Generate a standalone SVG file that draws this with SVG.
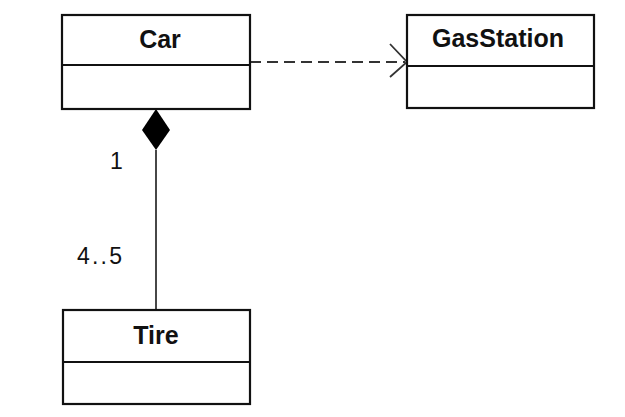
<svg xmlns="http://www.w3.org/2000/svg" width="625" height="417" viewBox="0 0 625 417">
<style>
.box{fill:#fff;stroke:#111;stroke-width:2.2}
.div{stroke:#111;stroke-width:2.2}
.name{font-family:"Liberation Sans",Arial,sans-serif;font-weight:bold;font-size:25px;fill:#111;text-anchor:middle}
.mult{font-family:"Liberation Sans",Arial,sans-serif;font-size:23px;fill:#111}
.conn{fill:none;stroke:#333;stroke-width:1.8}
</style>
<rect width="625" height="417" fill="#fff"/>
<g id="connectors">
<line class="conn" x1="250" y1="62" x2="405" y2="62" stroke-dasharray="11,6"/>
<polyline class="conn" points="390,44 407,62 390,77"/>
<line class="conn" x1="156" y1="150" x2="156" y2="310"/>
<polygon points="156,109 170,130 156,150 142,130" fill="#000"/>
<text class="mult" x="110" y="169">1</text>
<text class="mult" x="77" y="264" textLength="45">4..5</text>
</g>
<g id="car">
<rect class="box" x="62" y="15" width="188" height="94"/>
<line class="div" x1="62" y1="65" x2="250" y2="65"/>
<text class="name" x="160" y="48">Car</text>
</g>
<g id="gasstation">
<rect class="box" x="407" y="15" width="187" height="93"/>
<line class="div" x1="407" y1="66" x2="594" y2="66"/>
<text class="name" x="498" y="47">GasStation</text>
</g>
<g id="tire">
<rect class="box" x="63" y="310" width="187" height="94"/>
<line class="div" x1="63" y1="362" x2="250" y2="362"/>
<text class="name" x="156" y="344">Tire</text>
</g>
</svg>
